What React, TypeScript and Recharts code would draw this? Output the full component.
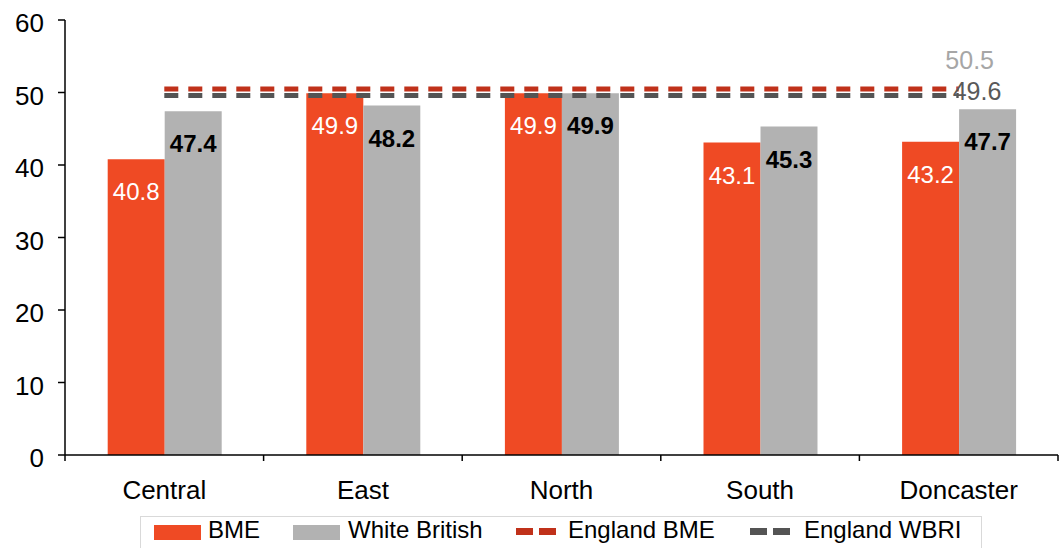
import React from 'react';
import {
  ComposedChart,
  Bar,
  Line,
  XAxis,
  YAxis,
  Legend,
  LabelList,
} from 'recharts';

const categories = ['Central', 'East', 'North', 'South', 'Doncaster'];
const bmeValues = [40.8, 49.9, 49.9, 43.1, 43.2];
const whiteBritishValues = [47.4, 48.2, 49.9, 45.3, 47.7];
const englandBmeValues = [50.5, 50.5, 50.5, 50.5, 50.5];
const englandWbriValues = [49.6, 49.6, 49.6, 49.6, 49.6];
const yTicks = [0, 10, 20, 30, 40, 50, 60];
const seriesNames = ['BME', 'White British', 'England BME', 'England WBRI'];

const data = categories.map((name, i) => ({
  name,
  bme: bmeValues[i],
  wb: whiteBritishValues[i],
  engBme: englandBmeValues[i],
  engWbri: englandWbriValues[i],
}));

const FONT = '"Liberation Sans", Arial, sans-serif';
const C_BME = '#EF4A24';
const C_WB = '#B2B2B2';
const C_ENG_BME = '#C0311A';
const C_ENG_WBRI = '#545454';

const XTick = (props: any) => {
  const { x, y, payload, index } = props;
  const half = payload && typeof payload.offset === 'number' && payload.offset > 0 ? payload.offset : 99.3;
  return (
    <g>
      <line x1={x - half} y1={y} x2={x - half} y2={y + 6} stroke="#000" strokeWidth={1.5} />
      {index === categories.length - 1 && (
        <line x1={x + half} y1={y} x2={x + half} y2={y + 6} stroke="#000" strokeWidth={1.5} />
      )}
      <text x={x} y={y + 44} textAnchor="middle" fontSize={26} fill="#000" fontFamily={FONT}>
        {payload.value}
      </text>
    </g>
  );
};

const EngBmeLabel = (props: any) => {
  const { x, y, index, value } = props;
  if (index !== categories.length - 1) return null;
  return (
    <text x={x + 11} y={y - 20} textAnchor="middle" fontSize={25} fill="#A6A6A6" fontFamily={FONT}>
      {value}
    </text>
  );
};

const EngWbriLabel = (props: any) => {
  const { x, y, index, value } = props;
  if (index !== categories.length - 1) return null;
  return (
    <text x={x - 6} y={y + 5} textAnchor="start" fontSize={25} fill="#595959" fontFamily={FONT}>
      {value}
    </text>
  );
};

const LegendBox = () => {
  const textStyle: React.CSSProperties = {
    position: 'absolute',
    top: 0,
    lineHeight: '26px',
    fontSize: 24,
    color: '#000',
    fontFamily: FONT,
    whiteSpace: 'nowrap',
  };
  const dash = (left: number, color: string) => (
    <>
      <div style={{ position: 'absolute', left, top: 11, width: 17, height: 7, background: color }} />
      <div style={{ position: 'absolute', left: left + 23, top: 11, width: 17, height: 7, background: color }} />
    </>
  );
  return (
    <div
      style={{
        position: 'relative',
        width: 842,
        height: 32,
        boxSizing: 'border-box',
        borderTop: '1px solid #D9D9D9',
        borderLeft: '1px solid #D9D9D9',
        borderRight: '1px solid #D9D9D9',
      }}
    >
      <div style={{ position: 'absolute', left: 13, top: 8, width: 47, height: 15, background: C_BME }} />
      <div style={{ ...textStyle, left: 67 }}>{seriesNames[0]}</div>
      <div style={{ position: 'absolute', left: 152, top: 8, width: 47, height: 15, background: C_WB }} />
      <div style={{ ...textStyle, left: 207 }}>{seriesNames[1]}</div>
      {dash(375, C_ENG_BME)}
      <div style={{ ...textStyle, left: 427 }}>{seriesNames[2]}</div>
      {dash(609, C_ENG_WBRI)}
      <div style={{ ...textStyle, left: 663 }}>{seriesNames[3]}</div>
    </div>
  );
};

export default function App() {
  return (
    <div style={{ position: 'absolute', left: 0, top: 0, width: 1060, height: 548, background: '#fff' }}>
      <ComposedChart
        width={1060}
        height={548}
        data={data}
        margin={{ top: 20, right: 2, bottom: 0, left: 0 }}
        barCategoryGap="21.5%"
        barGap={0}
        style={{ fontFamily: FONT }}
      >
        <XAxis
          dataKey="name"
          height={61}
          axisLine={{ stroke: '#000', strokeWidth: 1.5 }}
          tickLine={false}
          tickSize={0}
          tickMargin={0}
          interval={0}
          tick={<XTick />}
        />
        <YAxis
          width={65}
          domain={[0, 60]}
          ticks={yTicks}
          interval={0}
          axisLine={{ stroke: '#000', strokeWidth: 1.5 }}
          tickLine={{ stroke: '#000', strokeWidth: 1.5 }}
          tickSize={7}
          tickMargin={14}
          tick={{ fontSize: 26, fill: '#000', fontFamily: FONT, dy: 3 }}
        />
        <Legend
          verticalAlign="bottom"
          align="left"
          content={() => <LegendBox />}
          wrapperStyle={{ left: 140, width: 842 }}
        />
        <Bar dataKey="bme" name={seriesNames[0]} fill={C_BME} isAnimationActive={false}>
          <LabelList
            dataKey="bme"
            position="insideTop"
            offset={24}
            fill="#fff"
            fontSize={24}
            fontFamily={FONT}
          />
        </Bar>
        <Bar dataKey="wb" name={seriesNames[1]} fill={C_WB} isAnimationActive={false}>
          <LabelList
            dataKey="wb"
            position="insideTop"
            offset={24}
            fill="#000"
            fontSize={24}
            fontWeight="bold"
            fontFamily={FONT}
          />
        </Bar>
        <Line
          dataKey="engBme"
          name={seriesNames[2]}
          stroke={C_ENG_BME}
          strokeWidth={5}
          strokeDasharray="14 10"
          dot={false}
          activeDot={false}
          isAnimationActive={false}
        >
          <LabelList dataKey="engBme" content={<EngBmeLabel />} />
        </Line>
        <Line
          dataKey="engWbri"
          name={seriesNames[3]}
          stroke={C_ENG_WBRI}
          strokeWidth={5}
          strokeDasharray="14 10"
          dot={false}
          activeDot={false}
          isAnimationActive={false}
        >
          <LabelList dataKey="engWbri" content={<EngWbriLabel />} />
        </Line>
      </ComposedChart>
    </div>
  );
}
